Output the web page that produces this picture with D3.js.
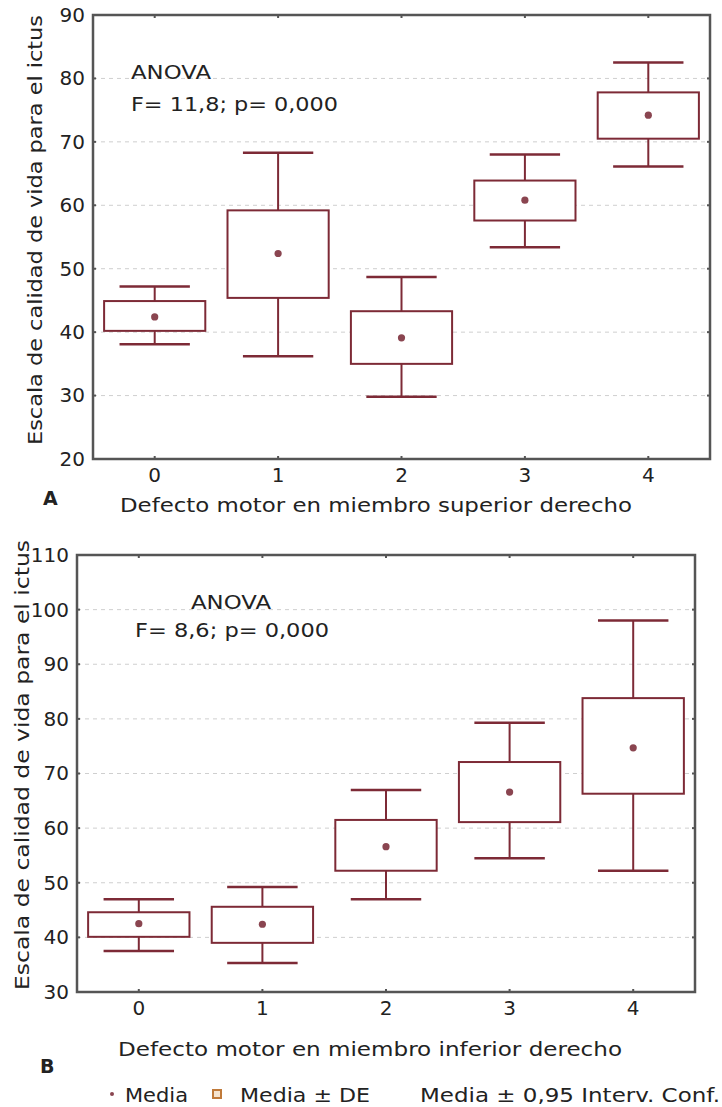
<!DOCTYPE html>
<html>
<head>
<meta charset="utf-8">
<script src="https://cdn.jsdelivr.net/npm/d3@7"></script>
<style>
  body { margin: 0; background: #fff; }
  svg text { font-family: "DejaVu Sans", Verdana, sans-serif; fill: #222; }
</style>
</head>
<body>
<svg id="chart" width="722" height="1107"></svg>
<script>
/* Two box-and-whisker panels: quality-of-life score by motor deficit grade.
   Box = mean ± SD, whiskers = mean ± 95% CI, dot = mean. */

const groups = ["0", "1", "2", "3", "4"];

// panel A - miembro superior derecho
const meanA   = [42.4, 52.4, 39.1, 60.8, 74.2];
const sdLoA   = [40.2, 45.4, 35.0, 57.6, 70.5];
const sdHiA   = [44.9, 59.2, 43.3, 63.9, 77.8];
const ciLoA   = [38.1, 36.2, 29.8, 53.4, 66.1];
const ciHiA   = [47.2, 68.3, 48.7, 68.0, 82.5];
const ticksA  = [20, 30, 40, 50, 60, 70, 80, 90];

// panel B - miembro inferior derecho
const meanB   = [42.5, 42.4, 56.6, 66.6, 74.7];
const sdLoB   = [40.1, 39.0, 52.2, 61.1, 66.3];
const sdHiB   = [44.6, 45.6, 61.5, 72.1, 83.8];
const ciLoB   = [37.5, 35.3, 47.0, 54.5, 52.2];
const ciHiB   = [47.0, 49.2, 67.0, 79.3, 98.0];
const ticksB  = [30, 40, 50, 60, 70, 80, 90, 100, 110];

const BOX = "#7d2a36", FRAME = "#555", GRID = "#cfcfcf";
const svg = d3.select("#chart");

// text helper: fixed font size, stretched to the width measured on the reference
function label(g, x, y, str, len, extra){
  const t = g.append("text").attr("x", x).attr("y", y).attr("font-size", 20).text(str);
  if (len) t.attr("textLength", len).attr("lengthAdjust", "spacingAndGlyphs");
  if (extra) extra(t);
  return t;
}

function panel(o){
  const x = d3.scaleBand().domain(groups).range([o.left, o.right]);
  const y = d3.scaleLinear().domain(d3.extent(o.ticks)).range([o.bottom, o.top]);
  const g = svg.append("g");
  const rows = groups.map((k, i) => ({k, m: o.mean[i], sl: o.sdLo[i], sh: o.sdHi[i], cl: o.ciLo[i], ch: o.ciHi[i]}));

  // dashed grid
  g.selectAll(".grid").data(o.ticks.slice(1, -1)).join("line")
    .attr("x1", o.left).attr("x2", o.right)
    .attr("y1", d => y(d)).attr("y2", d => y(d))
    .attr("stroke", GRID).attr("stroke-dasharray", "4,4").attr("stroke-width", 1);

  // axes used for labels only, frame drawn separately
  const ya = g.append("g").attr("transform", `translate(${o.left},0)`)
    .call(d3.axisLeft(y).tickValues(o.ticks).tickSize(0).tickPadding(8));
  ya.select(".domain").remove();
  ya.selectAll("text").attr("font-size", 20).attr("font-family", "DejaVu Sans").attr("fill", "#222");

  const xa = g.append("g").attr("transform", `translate(0,${o.bottom})`)
    .call(d3.axisBottom(x).tickSize(0).tickPadding(9));
  xa.select(".domain").remove();
  xa.selectAll("text").attr("font-size", 20).attr("font-family", "DejaVu Sans").attr("fill", "#222");

  // small inward ticks on all four sides
  o.ticks.forEach(t => {
    g.append("line").attr("x1", o.left).attr("x2", o.left + 3).attr("y1", y(t)).attr("y2", y(t)).attr("stroke", FRAME).attr("stroke-width", 2);
    g.append("line").attr("x1", o.right - 3).attr("x2", o.right).attr("y1", y(t)).attr("y2", y(t)).attr("stroke", FRAME).attr("stroke-width", 2);
  });
  groups.forEach(k => {
    const cx = x(k) + x.bandwidth() / 2;
    g.append("line").attr("x1", cx).attr("x2", cx).attr("y1", o.top).attr("y2", o.top + 3).attr("stroke", FRAME).attr("stroke-width", 2);
    g.append("line").attr("x1", cx).attr("x2", cx).attr("y1", o.bottom - 3).attr("y2", o.bottom).attr("stroke", FRAME).attr("stroke-width", 2);
  });

  const bw = x.bandwidth() * 0.82, cw = x.bandwidth() * 0.57;
  const b = g.selectAll(".bx").data(rows).join("g")
    .attr("transform", d => `translate(${x(d.k) + x.bandwidth() / 2},0)`);
  // whiskers (95% CI)
  b.append("line").attr("y1", d => y(d.ch)).attr("y2", d => y(d.sh)).attr("stroke", BOX).attr("stroke-width", 2);
  b.append("line").attr("y1", d => y(d.sl)).attr("y2", d => y(d.cl)).attr("stroke", BOX).attr("stroke-width", 2);
  b.append("line").attr("x1", -cw / 2).attr("x2", cw / 2).attr("y1", d => y(d.ch)).attr("y2", d => y(d.ch)).attr("stroke", BOX).attr("stroke-width", 2.5);
  b.append("line").attr("x1", -cw / 2).attr("x2", cw / 2).attr("y1", d => y(d.cl)).attr("y2", d => y(d.cl)).attr("stroke", BOX).attr("stroke-width", 2.5);
  // box (mean ± SD)
  b.append("rect").attr("x", -bw / 2).attr("width", bw)
    .attr("y", d => y(d.sh)).attr("height", d => y(d.sl) - y(d.sh))
    .attr("fill", "#fff").attr("stroke", BOX).attr("stroke-width", 2);
  b.append("circle").attr("cy", d => y(d.m)).attr("r", 3.6).attr("fill", "#8a4550");

  // frame
  g.append("rect").attr("x", o.left).attr("y", o.top)
    .attr("width", o.right - o.left).attr("height", o.bottom - o.top)
    .attr("fill", "none").attr("stroke", FRAME).attr("stroke-width", 2.5);

  // y title
  label(g, 0, 0, "Escala de calidad de vida para el ictus", o.ylabLen, t =>
    t.attr("x", null).attr("y", null).attr("text-anchor", "middle")
     .attr("transform", `translate(${o.ylabX},${o.ylabY}) rotate(-90)`));
  // x title
  label(g, o.xlabX, o.xlabY, o.xlab, o.xlabLen);
  // panel letter
  g.append("text").attr("x", o.letterX).attr("y", o.letterY).attr("font-size", 19)
    .attr("font-weight", "bold").text(o.letter);
  // ANOVA note
  o.note.forEach((t, i) => label(g, o.noteX[i], o.noteY[i], t, o.noteLen[i]));
}

panel({left: 93, right: 710, top: 15, bottom: 459, ticks: ticksA,
  mean: meanA, sdLo: sdLoA, sdHi: sdHiA, ciLo: ciLoA, ciHi: ciHiA,
  ylabX: 42, ylabY: 230, ylabLen: 430,
  xlab: "Defecto motor en miembro superior derecho", xlabX: 120, xlabY: 512, xlabLen: 512,
  letter: "A", letterX: 43, letterY: 505,
  note: ["ANOVA", "F= 11,8; p= 0,000"], noteX: [131, 131], noteY: [79, 111], noteLen: [80, 207]});

panel({left: 77, right: 695, top: 555, bottom: 992, ticks: ticksB,
  mean: meanB, sdLo: sdLoB, sdHi: sdHiB, ciLo: ciLoB, ciHi: ciHiB,
  ylabX: 29, ylabY: 765, ylabLen: 450,
  xlab: "Defecto motor en miembro inferior derecho", xlabX: 118, xlabY: 1056, xlabLen: 504,
  letter: "B", letterX: 40, letterY: 1073,
  note: ["ANOVA", "F= 8,6; p= 0,000"], noteX: [191, 135], noteY: [609, 637], noteLen: [80, 194]});

// legend
const lg = svg.append("g");
lg.append("circle").attr("cx", 112).attr("cy", 1094).attr("r", 2).attr("fill", "#8a4550");
label(lg, 125, 1102, "Media", 63);
lg.append("rect").attr("x", 213).attr("y", 1090).attr("width", 8).attr("height", 8)
  .attr("fill", "#f6e4cf").attr("stroke", "#c07a3a").attr("stroke-width", 2);
label(lg, 240, 1102, "Media ± DE", 130);
label(lg, 420, 1102, "Media ± 0,95 Interv. Conf.", 300);
</script>
</body>
</html>
